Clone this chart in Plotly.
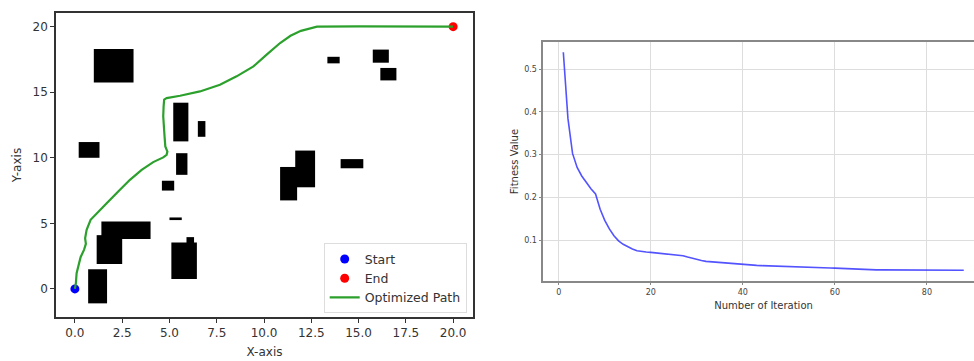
import plotly.graph_objects as go

# ---------------- data ----------------
# obstacles (rectangles) in map coordinates
obs_x0 = [1.0, 0.2, 0.7, 1.4, 1.15, 5.1, 5.9, 5.0, 4.6, 5.35, 5.2, 6.5, 11.65, 10.85, 14.05, 13.35, 15.75, 16.15]
obs_x1 = [3.1, 1.3, 1.7, 4.0, 2.5, 6.45, 6.3, 5.65, 5.25, 5.95, 6.0, 6.9, 12.7, 11.75, 15.25, 14.0, 16.6, 17.0]
obs_y0 = [15.75, 10.0, -1.1, 3.8, 1.9, 0.75, 3.4, 5.25, 7.5, 8.7, 11.25, 11.6, 7.75, 6.75, 9.2, 17.2, 17.25, 15.9]
obs_y1 = [18.3, 11.2, 1.5, 5.15, 4.1, 3.55, 3.95, 5.45, 8.25, 10.35, 14.2, 12.8, 10.55, 9.3, 9.9, 17.7, 18.25, 16.85]

start_pt = [0.0, 0.0]
end_pt = [20.0, 20.0]

path_x = [0.0, 0.05, 0.09, 0.18, 0.30, 0.48, 0.58, 0.54, 0.62, 0.83, 1.15, 1.68, 2.29, 2.91,
          3.53, 4.14, 4.67, 4.85, 4.89, 4.78, 4.74, 4.71, 4.67, 4.69, 4.72, 4.85, 5.56, 6.61,
          7.67, 8.55, 9.44, 10.14, 10.85, 11.4, 11.95, 12.8, 15.0, 20.0]
path_y = [0.0, 0.43, 1.2, 1.83, 2.42, 2.98, 3.44, 3.87, 4.5, 5.27, 5.78, 6.54, 7.43, 8.32,
          9.08, 9.67, 10.03, 10.23, 10.48, 10.87, 11.63, 12.39, 13.16, 13.92, 14.43, 14.55,
          14.73, 15.06, 15.57, 16.21, 16.97, 17.86, 18.75, 19.3, 19.68, 20.0, 20.02, 20.0]

iterations = list(range(1, 89))
fitness = [0.540, 0.385, 0.303, 0.270, 0.250, 0.234, 0.220, 0.208, 0.172, 0.146,
           0.126, 0.110, 0.098, 0.090, 0.084, 0.079, 0.075, 0.073, 0.072, 0.071,
           0.070, 0.069, 0.068, 0.067, 0.066, 0.065, 0.063, 0.060, 0.057, 0.054,
           0.052, 0.050, 0.049, 0.048, 0.047, 0.046, 0.045, 0.044, 0.043, 0.042,
           0.0415, 0.041, 0.0405, 0.040, 0.0395, 0.039, 0.0385, 0.038, 0.0375, 0.037,
           0.0367, 0.0364, 0.0361, 0.0358, 0.0355, 0.0352, 0.0349, 0.0346, 0.0343, 0.034,
           0.0335, 0.033, 0.0325, 0.032, 0.031, 0.030, 0.030, 0.030, 0.030, 0.030,
           0.030, 0.030, 0.030, 0.030, 0.030, 0.0295, 0.0295, 0.0295, 0.0295, 0.0295,
           0.0295, 0.0295, 0.029, 0.029, 0.029, 0.029, 0.029, 0.029]

x_ticks_left = [0, 2.5, 5, 7.5, 10, 12.5, 15, 17.5, 20]
x_ticklabels_left = ["0.0", "2.5", "5.0", "7.5", "10.0", "12.5", "15.0", "17.5", "20.0"]
y_ticks_left = [0, 5, 10, 15, 20]
x_ticks_right = [0, 20, 40, 60, 80]
y_ticks_right = [0.1, 0.2, 0.3, 0.4, 0.5]

# ---------------- figure ----------------
FONT = "DejaVu Sans"
W = 990  # wider than the window: the right panel is cut by the window edge, as in the reference
fig = go.Figure()

for x0, x1, y0, y1 in zip(obs_x0, obs_x1, obs_y0, obs_y1):
    fig.add_shape(type="rect", xref="x", yref="y", x0=x0, x1=x1, y0=y0, y1=y1,
                  fillcolor="black", line=dict(width=0), layer="below")

fig.add_trace(go.Scatter(x=[start_pt[0]], y=[start_pt[1]], mode="markers", name="Start",
                         marker=dict(color="#0000ff", size=9), xaxis="x", yaxis="y"))
fig.add_trace(go.Scatter(x=[end_pt[0]], y=[end_pt[1]], mode="markers", name="End",
                         marker=dict(color="#ff0000", size=9), xaxis="x", yaxis="y"))
fig.add_trace(go.Scatter(x=path_x, y=path_y, mode="lines", name="Optimized Path",
                         line=dict(color="#2ca02c", width=2.2), xaxis="x", yaxis="y"))

fig.add_trace(go.Scatter(x=iterations, y=fitness, mode="lines", showlegend=False,
                         line=dict(color="rgba(40,40,255,0.8)", width=1.6),
                         xaxis="x2", yaxis="y2"))

fig.update_layout(
    width=W, height=361,
    margin=dict(l=0, r=0, t=0, b=0),
    paper_bgcolor="white", plot_bgcolor="white",
    font=dict(family=FONT, color="#333333"),
    xaxis=dict(domain=[56 / W, 473 / W], range=[-1.0, 21.05], tickvals=x_ticks_left,
               ticktext=x_ticklabels_left, showgrid=False, zeroline=False,
               showline=True, linecolor="#333333", linewidth=1.5, mirror=True,
               ticks="outside", ticklen=4, tickcolor="#333333",
               tickfont=dict(size=12, color="#333333"),
               title=dict(text="X-axis", font=dict(size=12, color="#333333"), standoff=8)),
    yaxis=dict(domain=[0.1219, 0.964], range=[-2.14, 21.04], tickvals=y_ticks_left,
               showgrid=False, zeroline=False,
               showline=True, linecolor="#333333", linewidth=1.5, mirror=True,
               ticks="outside", ticklen=4, tickcolor="#333333",
               tickfont=dict(size=12, color="#333333"),
               title=dict(text="Y-axis", font=dict(size=12, color="#333333"), standoff=8)),
    xaxis2=dict(domain=[543.3 / W, 983.8 / W], range=[-3.35, 92.35], tickvals=x_ticks_right,
                anchor="y2", showgrid=True, gridcolor="#dddddd", gridwidth=1,
                zeroline=False, showline=True, linecolor="#888888", linewidth=1.5,
                mirror=True, ticks="outside", ticklen=3, tickcolor="#888888",
                tickfont=dict(size=8, color="#444444"),
                title=dict(text="Number of Iteration", font=dict(size=10, color="#333333"),
                           standoff=6)),
    yaxis2=dict(domain=[0.2224, 0.8828], range=[0.0046, 0.5633], tickvals=y_ticks_right,
                anchor="x2", showgrid=True, gridcolor="#dddddd", gridwidth=1,
                zeroline=False, showline=True, linecolor="#888888", linewidth=1.5,
                ticks="outside", ticklen=3, tickcolor="#888888",
                tickfont=dict(size=8, color="#444444"),
                title=dict(text="Fitness Value", font=dict(size=10, color="#333333"),
                           standoff=4)),
    legend=dict(x=466.7 / W, y=0.132, xanchor="right", yanchor="bottom",
                bgcolor="white", bordercolor="#dddddd", borderwidth=1,
                font=dict(size=12.5, color="#333333"), tracegroupgap=0),
)

fig.write_html(
    "out.html",
    config={"displayModeBar": False},
    post_script="document.body.style.margin='0';document.body.style.overflow='hidden';",
)
